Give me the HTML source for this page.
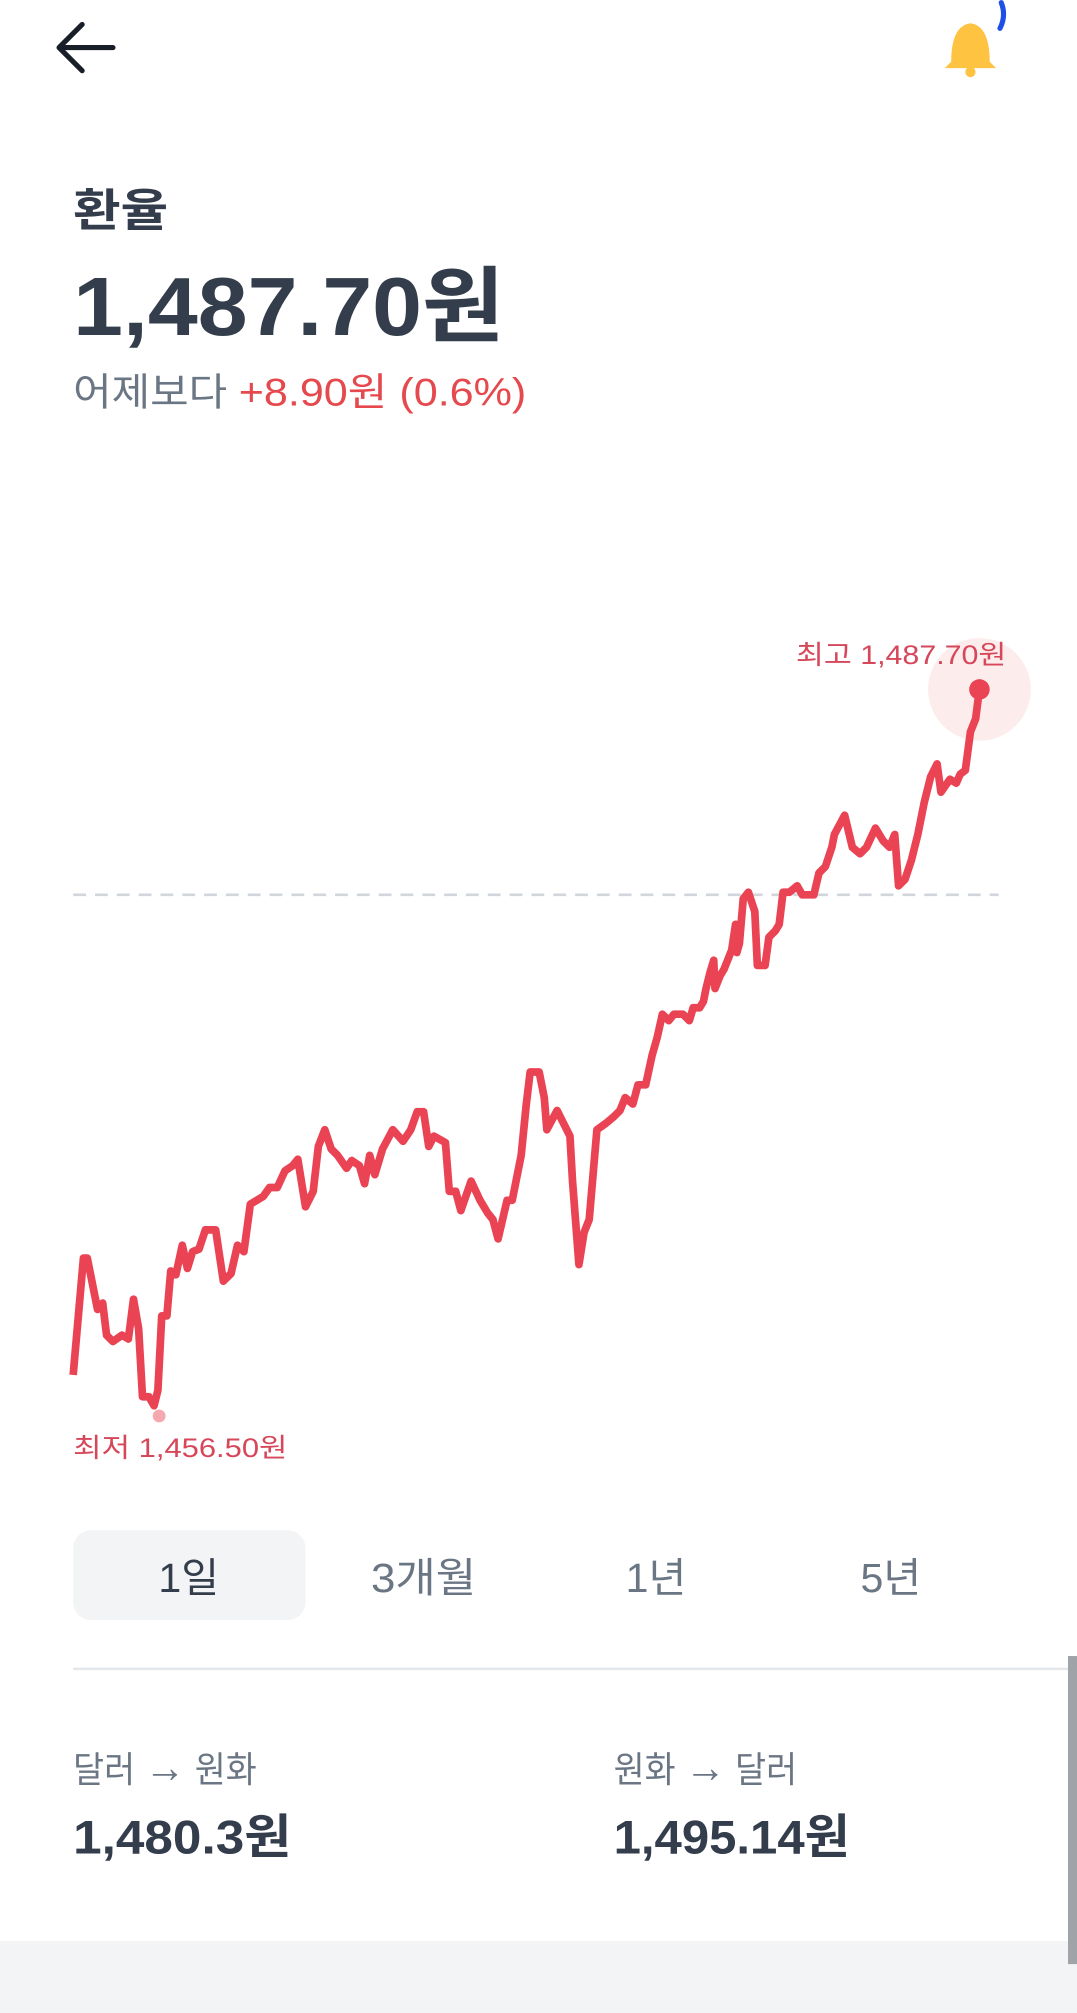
<!DOCTYPE html>
<html><head><meta charset="utf-8"><style>
html,body{margin:0;padding:0;background:#fff;}
svg{display:block}
text{font-family:"Liberation Sans","Noto Sans CJK KR","NanumGothic",sans-serif;}
</style></head><body>
<svg width="1077" height="2013" viewBox="0 0 839 1568" xmlns="http://www.w3.org/2000/svg">
<rect width="839" height="1568" fill="#fff"/>
<path d="M46 37 H88 M46 37 L64 19 M46 37 L64 55" stroke="#191f28" stroke-width="4" fill="none" stroke-linecap="round" stroke-linejoin="round"/>
<path d="M741 48 Q741 20 756 18 Q771 20 771 48 L776 53 H736 Z" fill="#ffc342"/>
<circle cx="756" cy="56" r="4" fill="#ffc342"/>
<path d="M780 2 Q784 12 779 22" stroke="#1e4fe6" stroke-width="4" fill="none" stroke-linecap="round"/>
<text x="57" y="176" font-size="35" font-weight="700" fill="#333d4b" textLength="74" lengthAdjust="spacingAndGlyphs">환율</text>
<text x="57" y="261" font-size="64" font-weight="700" fill="#333d4b" textLength="336" lengthAdjust="spacingAndGlyphs">1,487.70원</text>
<text x="57" y="316" font-size="30" fill="#6b7684" textLength="120" lengthAdjust="spacingAndGlyphs">어제보다</text>
<text x="186" y="316" font-size="30" fill="#e5484d" textLength="224" lengthAdjust="spacingAndGlyphs">+8.90원 (0.6%)</text>
<line x1="57" y1="697" x2="778" y2="697" stroke="#d1d6db" stroke-width="2" stroke-dasharray="10 7"/>
<circle cx="763" cy="537" r="40" fill="#fdecec"/>
<polyline fill="none" stroke="#ea4353" stroke-width="6" stroke-linejoin="round" points="57,1071 65,980 68,980 76,1020 80,1015 83,1040 88,1045 95,1040 100,1043 104,1012 108,1035 111,1088 116,1088 120,1095 123,1083 126,1025 130,1025 133,990 137,993 142,970 146,988 150,975 155,973 160,958 168,958 174,998 180,992 185,970 190,975 195,938 205,932 210,925 216,925 222,912 228,908 232,903 238,940 244,928 248,893 253,880 258,895 263,900 270,910 274,904 280,908 284,922 288,900 292,915 298,895 306,880 314,889 320,880 325,866 330,866 334,893 338,885 347,890 350,928 355,928 359,943 367,920 374,935 380,945 384,950 388,965 395,935 399,935 406,900 410,860 413,835 420,835 424,855 426,880 434,865 439,875 444,885 446,920 451,985 455,960 459,950 465,880 472,875 478,870 483,865 487,855 493,860 497,845 503,845 508,822 512,808 516,790 521,795 525,790 532,790 537,795 540,785 545,785 548,780 550,770 553,758 556,748 557,770 561,760 564,755 570,740 573,720 574,742 576,735 579,700 583,695 588,710 590,752 596,752 599,730 604,725 607,720 610,695 615,695 621,690 625,697 634,697 638,680 643,675 648,660 650,650 658,635 664,660 670,665 675,660 682,645 688,655 693,660 697,650 700,690 705,685 710,670 715,650 720,625 725,605 730,595 733,617 740,607 745,610 748,603 752,600 756,570 760,560 763,537"/>
<circle cx="763" cy="537" r="8" fill="#ea4353"/>
<circle cx="124" cy="1103" r="5" fill="#f5a9af"/>
<text x="620" y="517" font-size="21" fill="#d6475a" textLength="164" lengthAdjust="spacingAndGlyphs">최고 1,487.70원</text>
<text x="57" y="1135" font-size="21" fill="#d6475a" textLength="167" lengthAdjust="spacingAndGlyphs">최저 1,456.50원</text>
<rect x="57" y="1192" width="181" height="70" rx="14" fill="#f2f4f6"/>
<text x="147" y="1240" font-size="32" fill="#333d4b" text-anchor="middle">1일</text>
<text x="330" y="1240" font-size="32" fill="#6b7684" text-anchor="middle" textLength="82" lengthAdjust="spacingAndGlyphs">3개월</text>
<text x="511" y="1240" font-size="32" fill="#6b7684" text-anchor="middle">1년</text>
<text x="694" y="1240" font-size="32" fill="#6b7684" text-anchor="middle">5년</text>
<line x1="57" y1="1300" x2="839" y2="1300" stroke="#e5e8eb" stroke-width="2"/>
<text x="57" y="1388" font-size="28" fill="#6b7684" textLength="143" lengthAdjust="spacingAndGlyphs">달러 <tspan font-size="34">→</tspan> 원화</text>
<text x="57" y="1444" font-size="37" font-weight="700" fill="#333d4b" textLength="170" lengthAdjust="spacingAndGlyphs">1,480.3원</text>
<text x="478" y="1388" font-size="28" fill="#6b7684" textLength="143" lengthAdjust="spacingAndGlyphs">원화 <tspan font-size="34">→</tspan> 달러</text>
<text x="478" y="1444" font-size="37" font-weight="700" fill="#333d4b" textLength="184" lengthAdjust="spacingAndGlyphs">1,495.14원</text>
<rect x="0" y="1512" width="839" height="56" fill="#f2f4f6"/>
<rect x="832" y="1290" width="7" height="240" fill="#a0a4a8"/>
</svg>
</body></html>
